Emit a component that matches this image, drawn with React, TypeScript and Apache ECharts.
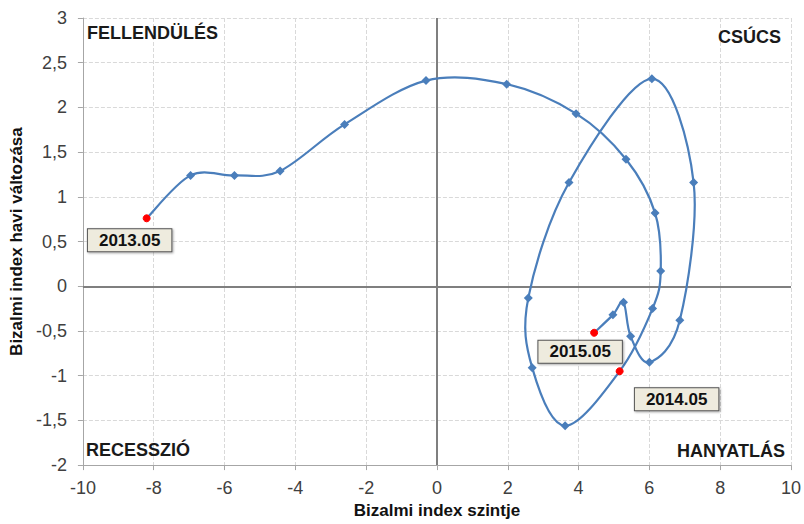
import React, { useEffect, useRef } from "react";
import * as echarts from "echarts";

const months = [
  "2013.05", "2013.06", "2013.07", "2013.08", "2013.09", "2013.10", "2013.11", "2013.12",
  "2014.01", "2014.02", "2014.03", "2014.04", "2014.05", "2014.06", "2014.07", "2014.08",
  "2014.09", "2014.10", "2014.11", "2014.12", "2015.01", "2015.02", "2015.03", "2015.04", "2015.05",
];
const indexLevel = [
  -8.2, -6.96, -5.72, -4.43, -2.61, -0.31, 1.97, 3.93, 5.34, 6.16, 6.32, 6.09, 5.16,
  3.62, 2.69, 2.58, 3.73, 6.07, 7.25, 6.86, 6.0, 5.47, 5.27, 4.97, 4.44,
];
const monthlyChange = [
  0.76, 1.24, 1.24, 1.29, 1.81, 2.3, 2.26, 1.93, 1.42, 0.82, 0.17, -0.25, -0.95,
  -1.56, -0.91, -0.13, 1.16, 2.32, 1.16, -0.38, -0.85, -0.56, -0.18, -0.32, -0.52,
];
const highlighted = ["2013.05", "2014.05", "2015.05"];
const labelOffsets: Record<string, [number, number]> = {
  "2013.05": [-17, 22],
  "2014.05": [57, 28],
  "2015.05": [-14, 19],
};
const quadrantLabels = [
  { text: "FELLENDÜLÉS", x: 87, y: 33, align: "left" },
  { text: "CSÚCS", x: 781, y: 37, align: "right" },
  { text: "RECESSZIÓ", x: 86, y: 450, align: "left" },
  { text: "HANYATLÁS", x: 785, y: 451, align: "right" },
];

const FONT = "'Liberation Sans', Arial, sans-serif";

export default function App() {
  const ref = useRef<HTMLDivElement>(null);
  useEffect(() => {
    if (!ref.current) return;
    const chart = echarts.init(ref.current, null, { renderer: "svg" });
    const blue = "#4a7ebb";
    const pts = months.map((_, i) => [indexLevel[i], monthlyChange[i]]);
    const n = pts.length;
    const markers = months.map((m, i) => {
      const hi = highlighted.includes(m);
      const item: any = { value: pts[i], name: m };
      if (hi) {
        item.itemStyle = { color: "#ff0000", borderColor: "#ff0000" };
        item.symbol = "circle";
        item.symbolSize = 7;
        item.label = {
          show: true,
          position: "inside",
          offset: labelOffsets[m],
          formatter: m,
          fontFamily: FONT,
          fontSize: 17,
          fontWeight: "bold",
          color: "#111",
          backgroundColor: "#eeebde",
          borderColor: "#555",
          borderWidth: 1,
          padding: [3, 11, 2, 11],
          shadowColor: "rgba(0,0,0,0.35)",
          shadowBlur: 2,
          shadowOffsetX: 1,
          shadowOffsetY: 1,
        };
      }
      return item;
    });
    const renderCurve = (params: any, api: any) => {
      const i = params.dataIndex;
      if (i >= n - 1) return null;
      const c = (k: number) => api.coord(pts[Math.max(0, Math.min(n - 1, k))]);
      const p0 = c(i - 1), p1 = c(i), p2 = c(i + 1), p3 = c(i + 2);
      const t = 1 / 6;
      return {
        type: "bezierCurve",
        shape: {
          x1: p1[0], y1: p1[1],
          x2: p2[0], y2: p2[1],
          cpx1: p1[0] + (p2[0] - p0[0]) * t,
          cpy1: p1[1] + (p2[1] - p0[1]) * t,
          cpx2: p2[0] - (p3[0] - p1[0]) * t,
          cpy2: p2[1] - (p3[1] - p1[1]) * t,
        },
        style: { stroke: blue, lineWidth: 2.2, fill: null },
      };
    };
    chart.setOption({
      animation: false,
      backgroundColor: "#fff",
      grid: { left: 79, right: 9, top: 18, bottom: 58 },
      xAxis: {
        type: "value",
        min: -10,
        max: 10,
        interval: 2,
        name: "Bizalmi index szintje",
        nameLocation: "middle",
        nameGap: 36,
        nameTextStyle: { fontFamily: FONT, fontSize: 17, fontWeight: "bold", color: "#111" },
        axisLine: { onZero: false, lineStyle: { color: "#a6a6a6", width: 1 } },
        axisTick: { show: true, length: 5, lineStyle: { color: "#a6a6a6" } },
        axisLabel: { fontFamily: FONT, fontSize: 18, color: "#404040", margin: 14 },
        splitLine: { show: true, lineStyle: { color: "#d9d9d9", type: "dashed", width: 1 } },
      },
      yAxis: {
        type: "value",
        min: -2,
        max: 3,
        interval: 0.5,
        name: "Bizalmi index havi változása",
        nameLocation: "middle",
        nameGap: 50,
        nameTextStyle: { fontFamily: FONT, fontSize: 17, fontWeight: "bold", color: "#111" },
        axisLine: { show: true, onZero: false, lineStyle: { color: "#a6a6a6", width: 1 } },
        axisTick: { show: true, length: 5, lineStyle: { color: "#a6a6a6" } },
        axisLabel: {
          fontFamily: FONT,
          fontSize: 18,
          color: "#404040",
          margin: 16,
          formatter: (v: number) => String(v).replace(".", ","),
        },
        splitLine: { show: true, lineStyle: { color: "#d9d9d9", type: "dashed", width: 1 } },
      },
      series: [
        {
          type: "custom",
          data: pts,
          renderItem: renderCurve,
          silent: true,
          z: 2,
        },
        {
          type: "scatter",
          data: markers,
          symbol: "diamond",
          symbolSize: 9,
          itemStyle: { color: blue, opacity: 1 },
          markLine: {
            silent: true,
            symbol: "none",
            label: { show: false },
            lineStyle: { color: "#7f7f7f", width: 2, type: "solid" },
            data: [{ xAxis: 0 }, { yAxis: 0 }],
            z: 1,
          },
          z: 3,
        },
      ],
      graphic: quadrantLabels.map((q) => ({
        type: "text",
        x: q.x,
        y: q.y,
        style: {
          text: q.text,
          fontFamily: FONT,
          fontSize: 18,
          fontWeight: "bold",
          fill: "#1a1a1a",
          align: q.align,
          verticalAlign: "middle",
        },
        z: 10,
      })),
    });
    return () => chart.dispose();
  }, []);
  return <div ref={ref} style={{ width: 804, height: 524, position: "absolute", left: 0, top: 0 }} />;
}
